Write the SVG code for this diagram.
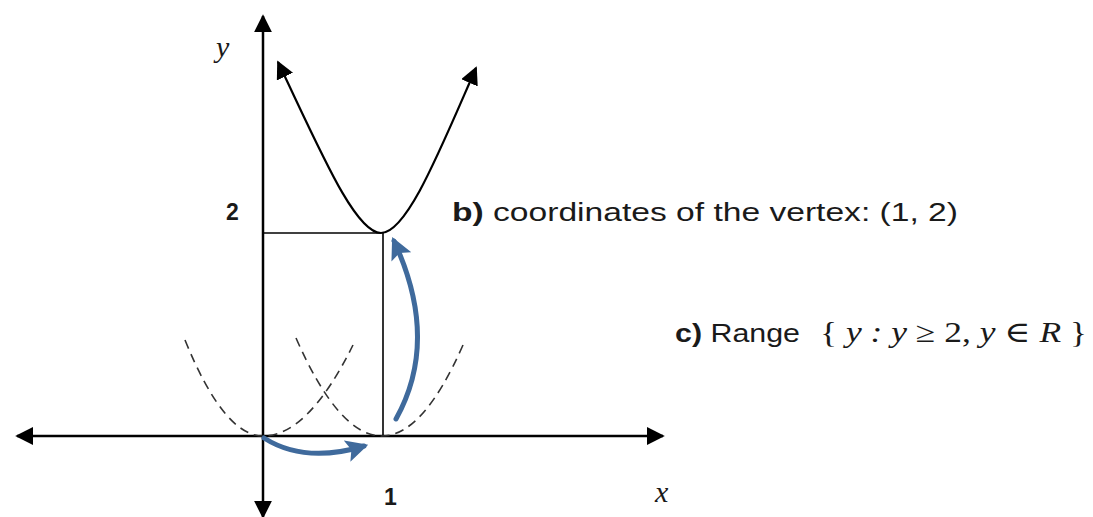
<svg xmlns="http://www.w3.org/2000/svg" width="1093" height="517" viewBox="0 0 1093 517">
<style>
.ax{stroke:#000;stroke-width:2.5;fill:none}
.thin{stroke:#000;stroke-width:1.6;fill:none}
.dash{stroke:#333;stroke-width:1.6;fill:none;stroke-dasharray:9 6}
.blue{stroke:#3f6a9c;stroke-width:5;fill:none;stroke-linecap:round}
.lbl{font-family:"Liberation Sans","Open Sans",sans-serif;font-size:25px;fill:#1a1a1a}
.num{font-family:"Liberation Sans",sans-serif;font-size:23px;font-weight:bold;fill:#1a1a1a}
.var{font-family:"Liberation Serif","DejaVu Serif",serif;font-style:italic;font-size:30px;fill:#1a1a1a}
.math{font-family:"Liberation Serif","DejaVu Serif",serif;font-style:italic;font-size:29px;fill:#1a1a1a}
</style>
<defs>
<marker id="ah" viewBox="0 0 10 10" refX="9" refY="5" markerWidth="18" markerHeight="18" markerUnits="userSpaceOnUse" orient="auto-start-reverse">
<path d="M0,0 L10,5 L0,10 Z" fill="#000"/>
</marker>
<marker id="bh" viewBox="0 0 10 10" refX="8" refY="5" markerWidth="22" markerHeight="22" markerUnits="userSpaceOnUse" orient="auto">
<path d="M0,0 L10,5 L0,10 L2,5 Z" fill="#3f6a9c"/>
</marker>
</defs>
<g id="axes">
<line class="ax" x1="250" y1="436" x2="17" y2="436" marker-end="url(#ah)"/>
<line class="ax" x1="250" y1="436" x2="663" y2="436" marker-end="url(#ah)"/>
<line class="ax" x1="263" y1="436" x2="263" y2="16" marker-end="url(#ah)"/>
<line class="ax" x1="263" y1="436" x2="263" y2="517" marker-end="url(#ah)"/>
</g>
<g id="guides">
<line class="thin" x1="263" y1="233" x2="381" y2="233"/>
<line class="thin" x1="383" y1="233" x2="383" y2="436"/>
</g>
<g id="dashed-parabolas">
<path class="dash" d="M185,340 Q224,436 263,436 Q308,436 353,345"/>
<path class="dash" d="M296,338 Q339,436 382,436 Q423,436 463,345"/>
</g>
<g id="parabola">
<path class="ax" style="stroke-width:2.2" d="M278,62 C320,150 355,233 381,233 C407,233 440,150 476,68" marker-start="url(#ah)" marker-end="url(#ah)"/>
</g>
<g id="connectors">
<path class="blue" d="M264,438 Q305,464 364,446" marker-end="url(#bh)"/>
<path class="blue" d="M396,419 Q440,340 394,241" marker-end="url(#bh)"/>
</g>
<g id="labels">
<text class="var" x="216" y="57">y</text>
<text class="num" x="226" y="220">2</text>
<text class="num" x="384" y="505">1</text>
<text class="var" x="655" y="502">x</text>
<text class="lbl" x="452" y="221" textLength="506" lengthAdjust="spacingAndGlyphs"><tspan font-weight="bold">b)</tspan> coordinates of the vertex: (1, 2)</text>
<text class="lbl" x="675" y="342" textLength="125" lengthAdjust="spacingAndGlyphs"><tspan font-weight="bold">c)</tspan> Range</text>
<text class="math" x="820" y="342" textLength="267" lengthAdjust="spacingAndGlyphs"><tspan font-style="normal">{</tspan> y : y <tspan font-style="normal">≥ 2,</tspan> y <tspan font-style="normal">∈</tspan> R <tspan font-style="normal">}</tspan></text>
</g>
</svg>
